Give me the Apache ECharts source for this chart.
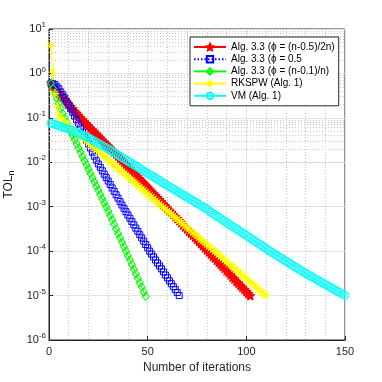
<!DOCTYPE html>
<html>
<head>
<meta charset="utf-8">
<script src="https://cdn.jsdelivr.net/npm/echarts@6/dist/echarts.min.js"></script>
<style>
  html, body { margin: 0; padding: 0; background: #fff; }
  #main { width: 382px; height: 382px; }
</style>
</head>
<body>
<div id="main"></div>
<script>
// tick labels
var xTicks = [0, 50, 100, 150];
var yTickExps = [-6, -5, -4, -3, -2, -1, 0, 1];

// series names (legend order)
var names = ['Alg. 3.3 (ϕ = (n-0.5)/2n)', 'Alg. 3.3 (ϕ = 0.5', 'Alg. 3.3 (ϕ = (n-0.1)/n)', 'RKSPW (Alg. 1)', 'VM (Alg. 1)'];

// TOL_n per iteration (iteration n = index + 1)
// Alg. 3.3 phi=(n-0.5)/2n  (red stars)
var tolRed = [0.60,0.535,0.47,0.42,0.37,0.331,0.29,0.261,0.23,0.205,0.18,0.161,0.14,0.127,0.113,0.100,0.090,0.081,0.073,0.0658,
  0.059,0.0533,0.048,0.0433,0.039,0.0351,0.0316,0.0284,0.0257,0.0231,0.0209,0.0187,0.0170,0.0152,0.0138,0.0123,0.0111,0.0100,0.0090,0.00805,
  0.00723,0.00649,0.00582,0.00523,0.00470,0.00422,0.00378,0.00340,0.00305,0.00274,0.00246,0.00220,0.00198,0.00178,0.00160,0.00143,0.00129,0.00115,0.00104,0.00093,
  0.00083,0.00075,0.00067,0.00060,0.00054,0.00049,0.00044,0.00039,0.00035,3.16e-4,2.8e-4,2.54e-4,2.3e-4,2.05e-4,1.84e-4,1.65e-4,1.48e-4,1.33e-4,1.19e-4,1.07e-4,
  9.6e-5,8.63e-5,7.7e-5,6.97e-5,6.2e-5,5.61e-5,5.0e-5,4.52e-5,4.1e-5,3.64e-5,3.3e-5,2.93e-5,2.6e-5,2.37e-5,2.1e-5,1.91e-5,1.7e-5,1.53e-5,1.38e-5,1.24e-5,
  1.11e-5,1.0e-5];

// Alg. 3.3 phi=0.5  (blue squares, dotted)
var tolBlue = [0.60,0.582,0.56,0.50,0.45,0.383,0.33,0.282,0.23,0.193,0.16,0.133,0.11,0.090,0.073,0.0593,0.048,0.039,0.0316,0.0257,
  0.0209,0.0169,0.0137,0.0111,0.00916,0.00767,0.00643,0.00538,0.00451,0.00378,0.00316,0.00265,0.00222,0.00186,0.00156,0.00130,0.00109,0.00092,0.00077,0.00065,
  0.00055,0.00046,0.00039,0.00033,0.00028,2.34e-4,1.98e-4,1.67e-4,1.41e-4,1.19e-4,1.0e-4,8.57e-5,7.4e-5,6.31e-5,5.4e-5,4.65e-5,4.0e-5,3.41e-5,2.9e-5,2.51e-5,
  2.15e-5,1.85e-5,1.58e-5,1.36e-5,1.17e-5,1.0e-5];

// Alg. 3.3 phi=(n-0.1)/n  (green diamonds)
var tolGreen = [0.60,0.46,0.355,0.273,0.209,0.162,0.126,0.0995,0.079,0.063,0.050,0.0403,0.0324,0.026,0.0209,0.0168,0.0135,0.0108,0.0087,0.0070,
  0.0056,0.0045,0.0036,0.0029,0.00234,0.00188,0.00151,0.00122,0.00098,0.00079,0.00063,0.00050,0.00040,0.000316,0.00025,0.00020,0.000158,0.000126,0.00010,7.9e-5,
  6.3e-5,4.95e-5,3.9e-5,3.1e-5,2.45e-5,1.95e-5,1.55e-5,1.21e-5,9.5e-6];

// RKSPW (Alg. 1)  (yellow asterisks)
var tolYellow = [4.2,1.07,0.35,0.18,0.117,0.0933,0.0855,0.0783,0.0716,0.0656,0.0601,0.0550,0.0504,0.0461,0.0423,0.0387,0.0355,0.0325,0.0297,0.0272,
  0.0249,0.0228,0.0209,0.0191,0.0175,0.0160,0.0147,0.0135,0.0123,0.0113,0.01035,0.00948,0.00868,0.00795,0.00728,0.00667,0.00611,0.00559,0.00512,0.00469,
  0.00430,0.00393,0.00360,0.00330,0.00302,0.00277,0.00254,0.00232,0.00212,0.00195,0.00178,0.00163,0.00150,0.00137,0.00125,0.00115,0.00105,0.00096,0.00088,0.00081,
  0.00074,0.00068,0.00062,0.00057,0.00052,0.00048,0.00044,0.00040,0.00037,0.00034,0.00031,2.84e-4,2.6e-4,2.38e-4,2.16e-4,1.98e-4,1.81e-4,1.66e-4,1.52e-4,1.39e-4,
  1.27e-4,1.17e-4,1.07e-4,9.8e-5,8.95e-5,8.2e-5,7.51e-5,6.88e-5,6.3e-5,5.77e-5,5.28e-5,4.84e-5,4.43e-5,4.06e-5,3.72e-5,3.41e-5,3.12e-5,2.86e-5,2.62e-5,2.4e-5,
  2.19e-5,2.01e-5,1.84e-5,1.69e-5,1.54e-5,1.41e-5,1.29e-5,1.18e-5,1.08e-5,1.0e-5];

// VM (Alg. 1)  (cyan circles)
var tolCyan = [0.076,0.0735,0.071,0.0685,0.066,0.064,0.062,0.060,0.058,0.0558,0.0537,0.0513,0.049,0.0468,0.0447,0.0427,0.0407,0.0389,0.0372,0.0353,
  0.0335,0.0316,0.0299,0.0282,0.0266,0.0251,0.0237,0.0224,0.0211,0.0199,0.0187,0.0176,0.0165,0.0155,0.0146,0.0137,0.0129,0.0121,0.0113,0.0106,
  0.0100,0.0094,0.0088,0.0083,0.0078,0.0073,0.0069,0.0064,0.0060,0.0056,0.0053,0.0050,0.0047,0.0044,0.00414,0.00389,0.00365,0.00343,0.00322,0.00302,
  0.00284,0.00267,0.00251,0.00236,0.00222,0.00209,0.00196,0.00185,0.00174,0.00164,0.00154,0.00145,0.00136,0.00128,0.00120,0.00113,0.00106,0.00100,0.00094,0.00088,
  0.00082,0.00076,0.00071,0.00066,0.00062,0.00058,0.00054,0.00050,0.00047,0.00044,0.00041,0.00038,0.00036,3.37e-4,3.16e-4,2.95e-4,2.76e-4,2.58e-4,2.41e-4,2.26e-4,
  2.11e-4,1.97e-4,1.84e-4,1.72e-4,1.61e-4,1.50e-4,1.40e-4,1.31e-4,1.23e-4,1.15e-4,1.07e-4,1.0e-4,9.38e-5,8.8e-5,8.26e-5,7.74e-5,7.26e-5,6.82e-5,6.4e-5,6.0e-5,
  5.62e-5,5.27e-5,4.94e-5,4.64e-5,4.35e-5,4.08e-5,3.83e-5,3.59e-5,3.37e-5,3.17e-5,2.99e-5,2.82e-5,2.66e-5,2.51e-5,2.37e-5,2.24e-5,2.11e-5,1.99e-5,1.88e-5,1.78e-5,
  1.68e-5,1.59e-5,1.5e-5,1.41e-5,1.33e-5,1.26e-5,1.19e-5,1.12e-5,1.06e-5,1.0e-5];

function withIter(ys) {
  return ys.map(function (y, i) { return [i + 1, y]; });
}

// minor log grid lines (2..9 in each decade)
var minorLines = [];
for (var e = yTickExps[0]; e < yTickExps[yTickExps.length - 1]; e++) {
  for (var k = 2; k <= 9; k++) {
    minorLines.push({ yAxis: k * Math.pow(10, e) });
  }
}

var starPath = 'path://M0,-10L2.94,-4.05L9.51,-3.09L4.76,1.55L5.88,8.09L0,5L-5.88,8.09L-4.76,1.55L-9.51,-3.09L-2.94,-4.05Z';
var asteriskPath = 'path://M0,-10L0,10M-10,0L10,0M-7,-7L7,7M-7,7L7,-7';

function mkSeries(name, data, color, symbol, size, filled, dotted) {
  return {
    name: name,
    type: 'line',
    data: data,
    symbol: symbol,
    symbolSize: size,
    showAllSymbol: true,
    lineStyle: { color: color, width: 1, type: dotted ? [1.5, 2] : 'solid' },
    itemStyle: { color: filled ? color : 'rgba(0,0,0,0)', borderColor: color, borderWidth: 1 }
  };
}

var series = [
  mkSeries(names[0], withIter(tolRed), '#ff0000', starPath, 9, true, false),
  mkSeries(names[1], withIter(tolBlue), '#0000ff', 'rect', 6, false, true),
  mkSeries(names[2], withIter(tolGreen), '#00ff00', 'diamond', [7, 8], false, false),
  mkSeries(names[3], withIter(tolYellow), '#ffff00', asteriskPath, 9, false, false),
  mkSeries(names[4], withIter(tolCyan), '#00ffff', 'circle', 8, false, false)
];
series[0].markLine = {
  silent: true,
  symbol: 'none',
  z: 1,
  label: { show: false },
  lineStyle: { color: '#c8c8c8', type: [1, 2], width: 1 },
  data: minorLines
};

var myChart = echarts.init(document.getElementById('main'));
var option = {
  animation: false,
  textStyle: { fontFamily: 'Liberation Sans' },
  grid: {
    left: 49, right: 37, top: 29, bottom: 42,
    containLabel: false,
    outerBoundsMode: 'none',
    show: true, borderColor: '#262626', borderWidth: 1, backgroundColor: 'transparent'
  },
  legend: {
    data: names,
    orient: 'vertical',
    left: 190,
    top: 37,
    padding: [5, 4, 5, 3],
    itemWidth: 32,
    itemHeight: 8,
    itemGap: 2.2,
    backgroundColor: '#fff',
    borderColor: '#262626',
    borderWidth: 1,
    borderRadius: 0,
    selectedMode: false,
    textStyle: { fontSize: 10, color: '#000', lineHeight: 10, fontFamily: 'Liberation Sans' }
  },
  xAxis: {
    type: 'value',
    min: xTicks[0],
    max: xTicks[xTicks.length - 1],
    interval: 50,
    name: 'Number of iterations',
    nameLocation: 'middle',
    nameGap: 22,
    nameTextStyle: { fontSize: 12, color: '#262626' },
    axisLine: { lineStyle: { color: '#262626' } },
    axisTick: { inside: true, length: 4, lineStyle: { color: '#262626' } },
    axisLabel: { fontSize: 11, color: '#262626', margin: 6 },
    splitLine: { show: true, lineStyle: { color: '#e3e3e3' } },
    minorTick: { show: false, splitNumber: 5 },
    minorSplitLine: { show: true, lineStyle: { color: '#c8c8c8', type: [1, 2] } }
  },
  yAxis: {
    type: 'log',
    logBase: 10,
    min: Math.pow(10, yTickExps[0]),
    max: Math.pow(10, yTickExps[yTickExps.length - 1]),
    interval: 1,
    name: '{a|TOL}{b|n}',
    nameLocation: 'middle',
    nameRotate: 90,
    nameGap: 27,
    nameTextStyle: {
      rich: {
        a: { fontSize: 12, color: '#262626' },
        b: { fontSize: 9, color: '#262626', padding: [6, 0, 0, 0] }
      }
    },
    axisLine: { lineStyle: { color: '#262626' } },
    axisTick: { inside: true, length: 4, lineStyle: { color: '#262626' } },
    axisLabel: {
      margin: 3,
      formatter: function (v) {
        var ex = Math.round(Math.log(v) / Math.LN10);
        return '{b|10}{s|' + ex + '}';
      },
      rich: {
        b: { fontSize: 11, color: '#262626' },
        s: { fontSize: 8, color: '#262626', padding: [0, 0, 8, 0] }
      }
    },
    splitLine: { show: true, lineStyle: { color: '#e3e3e3' } }
  },
  series: series
};
myChart.setOption(option);
</script>
</body>
</html>
